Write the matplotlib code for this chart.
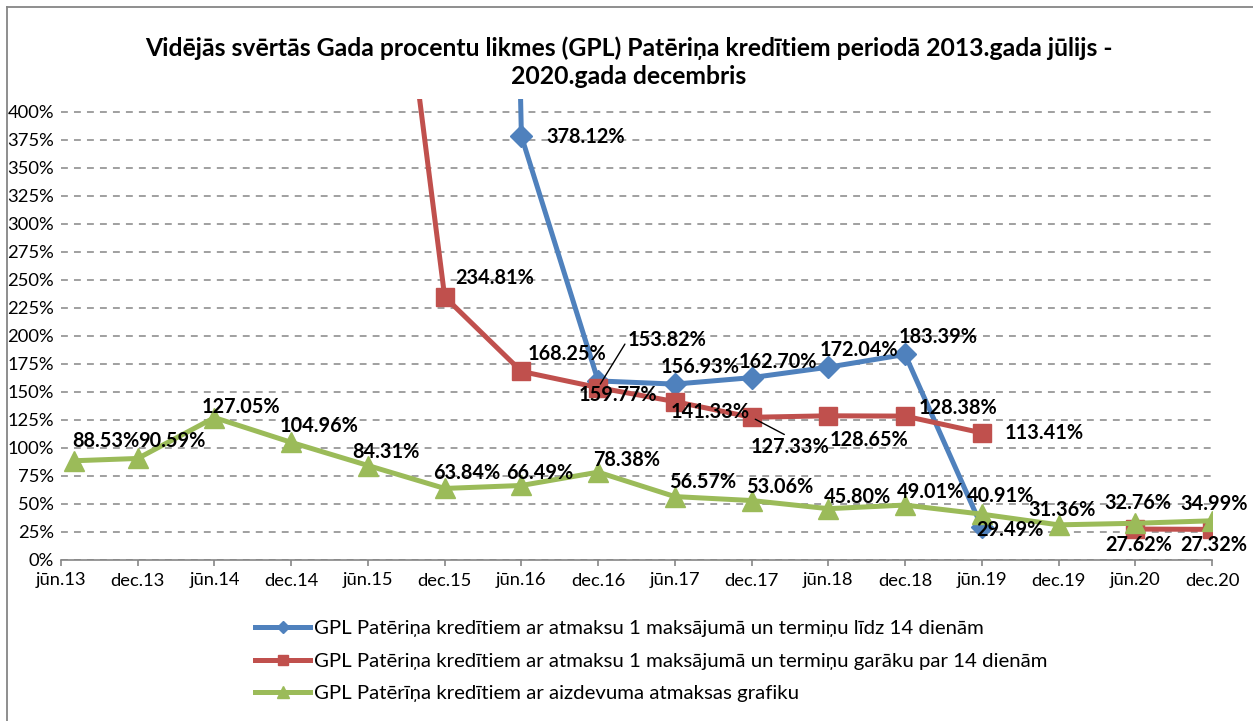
import matplotlib
matplotlib.use("Agg")
import matplotlib.pyplot as plt
from matplotlib.lines import Line2D
import numpy as np

plt.rcParams['font.family'] = ['Lato', 'DejaVu Sans']

# Data (months counted from jūn.13; first observation is 2013 July)
tick_labels = ["jūn.13", "dec.13", "jūn.14", "dec.14", "jūn.15", "dec.15", "jūn.16", "dec.16",
               "jūn.17", "dec.17", "jūn.18", "dec.18", "jūn.19", "dec.19", "jūn.20", "dec.20"]
months = [1, 6, 12, 18, 24, 30, 36, 42, 48, 54, 60, 66, 72, 78, 84, 90]
nan = np.nan
# values above 400% are off the chart, only the slope of the line shows them
blue_vals = [nan, nan, nan, nan, nan, 3500.0, 378.12, 159.77, 156.93, 162.70, 172.04, 183.39,
             29.49, nan, nan, nan]
red_vals = [nan, nan, nan, nan, 775.0, 234.81, 168.25, 153.82, 141.33, 127.33, 128.65, 128.38,
            113.41, nan, 27.62, 27.32]
green_vals = [88.53, 90.59, 127.05, 104.96, 84.31, 63.84, 66.49, 78.38, 56.57, 53.06, 45.80, 49.01,
              40.91, 31.36, 32.76, 34.99]

names = ["GPL Patēriņa kredītiem ar atmaksu 1 maksājumā un termiņu līdz 14 dienām",
         "GPL Patēriņa kredītiem ar atmaksu 1 maksājumā un termiņu garāku par 14 dienām",
         "GPL Patērīņa kredītiem ar aizdevuma atmaksas grafiku"]
title = ("Vidējās svērtās Gada procentu likmes (GPL) Patēriņa kredītiem periodā 2013.gada jūlijs -\n"
         "2020.gada decembris")

# label offsets in pixels (dx right, dy down) from each point
blue_off = {6: (64, 1), 7: (20, 14), 8: (25, -17), 9: (26, -16), 10: (31, -17), 11: (33, -17), 12: (28, 3)}
red_off = {5: (50, -19), 6: (46, -17), 7: (69, -48), 8: (35, 10), 9: (38, 30), 10: (41, 24),
           11: (53, -8), 12: (62, 0), 14: (3, 16), 15: (2, 16)}
green_off = [(32, -20), (34, -17), (27, -11), (28, -16), (18, -14), (22, -15), (18, -12), (28, -12),
             (28, -15), (28, -14), (29, -12), (25, -13), (19, -18), (4, -15), (3, -20), (2, -17)]
leaders = {("red", 7): (0.0, 0.5), ("red", 9): (0.5, 1.0)}

blue = "#4F81BD"
red = "#C0504D"
green = "#9BBB59"
grid_c = "#868686"

W, H = 1253, 721
fig = plt.figure(figsize=(W / 100, H / 100), dpi=100)
ax = fig.add_axes([61 / W, 1 - 560 / H, 1151 / W, 461 / H])

ax.plot(months, blue_vals, color=blue, lw=3.6, marker="D", ms=11, zorder=3)
ax.plot(months, red_vals, color=red, lw=3.6, marker="s", ms=13.5, zorder=4)
ax.plot(months, green_vals, color=green, lw=3.6, marker="^", ms=15, zorder=5)

ax.set_xlim(0, 90)
ax.set_ylim(0, 411.3)
ax.set_xticks(np.arange(0, 91, 6))
ax.set_xticklabels(tick_labels)
ax.set_yticks(np.arange(0, 401, 25))
ax.set_yticklabels([f"{v}%" for v in range(0, 401, 25)])
ax.tick_params(axis="y", length=0, pad=5, labelsize=13.2)
ax.tick_params(axis="x", length=4, color=grid_c, width=1.2, pad=5, labelsize=13.2)
for s in ["left", "top", "right"]:
    ax.spines[s].set_visible(False)
ax.spines["bottom"].set_color(grid_c)
ax.spines["bottom"].set_linewidth(1.2)
ax.yaxis.grid(True, color=grid_c, lw=1.1, dashes=(4.5, 4))
ax.set_axisbelow(True)


def put_labels(vals, offs, key):
    items = offs.items() if isinstance(offs, dict) else enumerate(offs)
    for i, (dx, dy) in items:
        v = vals[i]
        kw = {}
        if (key, i) in leaders:
            kw["arrowprops"] = dict(arrowstyle="-", color="black", lw=1,
                                    relpos=leaders[(key, i)], shrinkA=0, shrinkB=3)
        ax.annotate(f"{v:.2f}%", (months[i], v), xytext=(dx * 0.72, -dy * 0.72),
                    textcoords="offset points", ha="center", va="center",
                    fontsize=14.3, fontweight="bold", zorder=10, annotation_clip=False, **kw)


put_labels(blue_vals, blue_off, "blue")
put_labels(red_vals, red_off, "red")
put_labels(green_vals, green_off, "green")

fig.text(629 / W, 1 - 62 / H, title, ha="center", va="center", fontsize=17.8,
         fontweight="bold", linespacing=1.25)

handles = [Line2D([], [], color=blue, lw=3.6, marker="D", ms=6),
           Line2D([], [], color=red, lw=3.6, marker="s", ms=7),
           Line2D([], [], color=green, lw=3.6, marker="^", ms=8)]
fig.legend(handles, names, loc="upper left", bbox_to_anchor=(255 / W, 1 - 620 / H),
           frameon=False, fontsize=14.7, handlelength=2.7, handletextpad=0.2,
           labelspacing=0.74, borderpad=0, borderaxespad=0)

# chart border (left and top edges visible)
fig.add_artist(Line2D([7 / W, 7 / W], [0, 1 - 7 / H], color=grid_c, lw=1.3))
fig.add_artist(Line2D([7 / W, 1], [1 - 7 / H, 1 - 7 / H], color=grid_c, lw=1.3))

fig.savefig("out.png", dpi=100)
